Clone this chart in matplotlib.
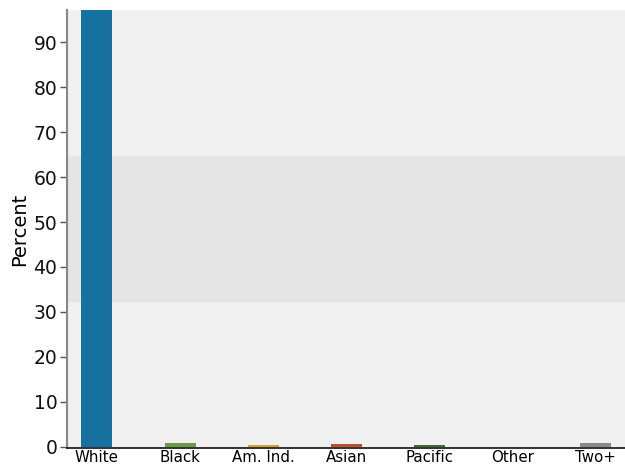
import matplotlib
matplotlib.use("Agg")
import matplotlib.pyplot as plt
import numpy as np

categories = ["White", "Black", "Am. Ind.", "Asian", "Pacific", "Other", "Two+"]
percent = [97.6, 0.8, 0.3, 0.6, 0.3, 0.03, 0.8]
bar_colors = ["#1670a0", "#6a9a44", "#d4a030", "#b5532a", "#3d6b30", "#9aa050", "#8a8a8a"]
band_low, band_high = 32.4, 64.7

fig = plt.figure(figsize=(6.25, 4.65), dpi=100)
ax = fig.add_axes([67 / 625, 17 / 465, 558 / 625, 438 / 465])
ax.set_facecolor("#f0f0f0")
ax.axhspan(band_low, band_high, color="#e5e5e5", zorder=0)

xs = np.arange(len(categories))
ax.bar(xs, percent, width=0.373, color=bar_colors, zorder=3)

ax.set_xlim(-0.36, 6.35)
ax.set_ylim(-0.3, 97.2)
ax.set_yticks(np.arange(0, 100, 10))
ax.tick_params(axis="y", labelsize=13.5, length=5, width=1, color="#555555",
               labelcolor="#111111", pad=2)
ax.set_xticks(xs)
ax.set_xticklabels(categories, fontsize=10.8)
ax.tick_params(axis="x", length=0, pad=1.5)
ax.set_ylabel("Percent", fontsize=14, labelpad=3)

for s in ["top", "right"]:
    ax.spines[s].set_visible(False)
ax.spines["left"].set_color("#888888")
ax.spines["left"].set_linewidth(1.5)
ax.spines["bottom"].set_color("#111111")
ax.spines["bottom"].set_linewidth(1.2)

fig.savefig("out.png", dpi=100)
